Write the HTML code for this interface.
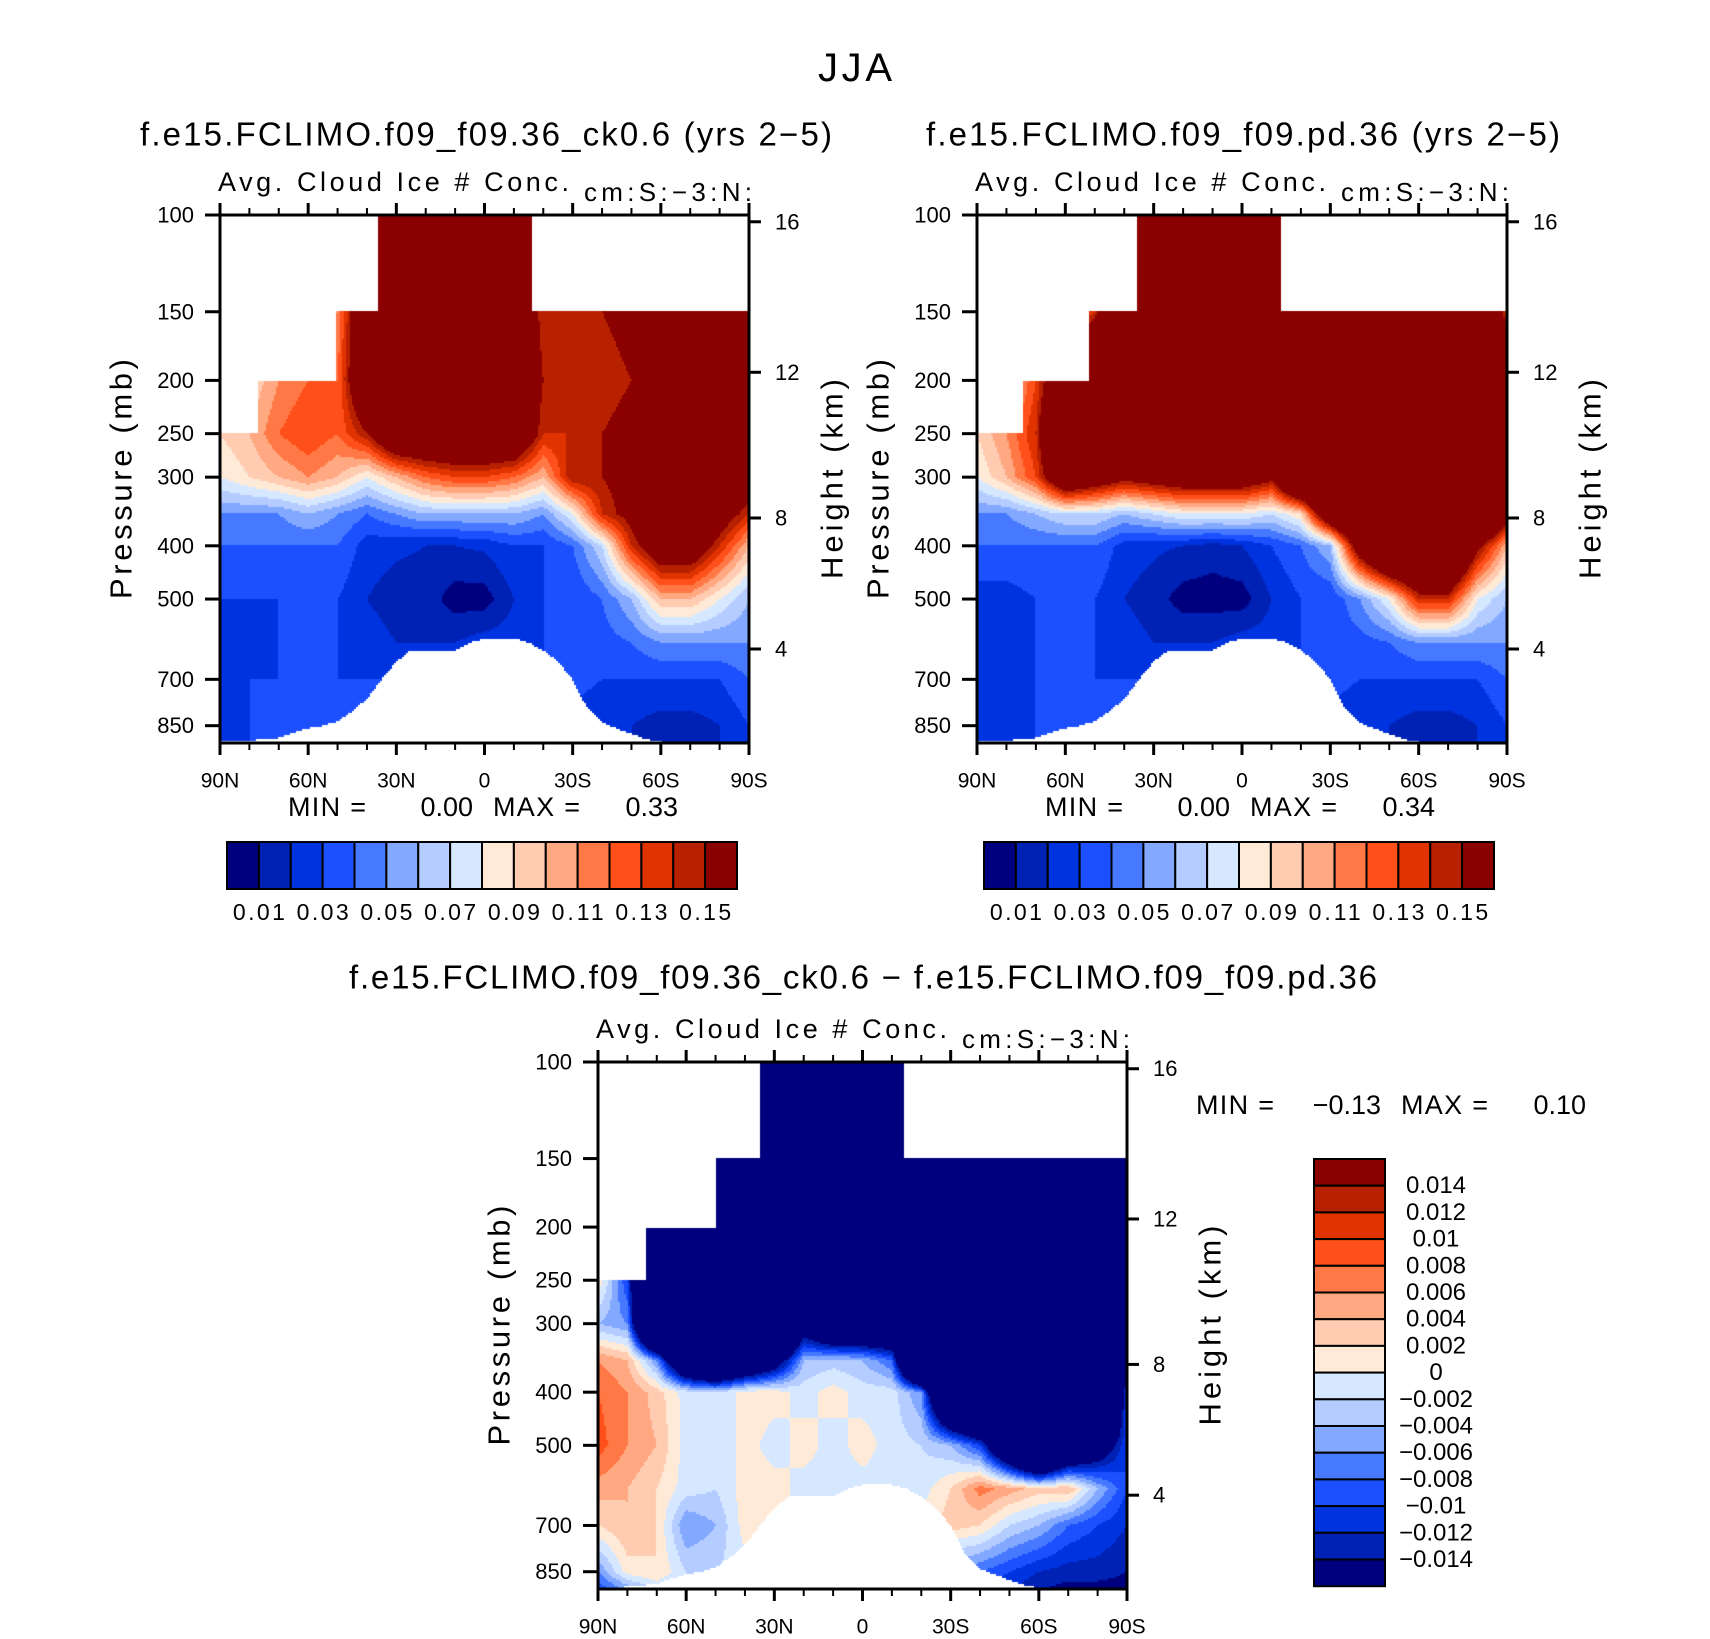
<!DOCTYPE html>
<html><head><meta charset="utf-8">
<style>
html,body{margin:0;padding:0;background:#fff}
#wrap{position:relative;width:1710px;height:1639px;overflow:hidden;font-family:"Liberation Sans",sans-serif}
canvas{position:absolute}
svg{position:absolute;left:0;top:0}
text{font-family:"Liberation Sans",sans-serif;fill:#000}
</style></head>
<body>
<div id="wrap">
<canvas id="c1" style="left:220px;top:215px" width="529" height="528"></canvas>
<canvas id="c2" style="left:977px;top:215px" width="530" height="528"></canvas>
<canvas id="c3" style="left:598px;top:1062px" width="529" height="527"></canvas>
<svg id="ov" width="1710" height="1639"></svg>
</div>
<script>
// ---------- data ----------
const lats = [90,80,70,60,50,40,30,20,10,0,-10,-20,-30,-40,-50,-60,-70,-80,-90];
const levels = [100,150,200,250,300,350,400,500,600,700,850,920];
const field1 = [
 [.10,.10,.10,.10,.12,.20,.20,.18,.16,.16,.17,.14,.14,.14,.14,.14,.14,.14,.14],
 [.08,.08,.09,.10,.11,.20,.25,.25,.25,.25,.20,.14,.14,.15,.16,.20,.20,.20,.16],
 [.08,.09,.11,.12,.12,.20,.25,.25,.25,.25,.20,.15,.14,.14,.15,.20,.20,.20,.20],
 [.09,.10,.12,.13,.12,.15,.20,.20,.20,.20,.20,.14,.14,.15,.16,.20,.20,.20,.18],
 [.08,.09,.10,.11,.10,.08,.10,.12,.13,.13,.12,.10,.15,.15,.16,.20,.20,.20,.17],
 [.05,.05,.05,.06,.05,.04,.05,.06,.06,.06,.06,.05,.08,.14,.16,.20,.20,.17,.14],
 [.04,.04,.04,.04,.04,.025,.022,.02,.02,.022,.03,.03,.04,.07,.14,.18,.18,.14,.10],
 [.03,.03,.03,.035,.03,.02,.015,.015,.005,.005,.02,.03,.03,.04,.06,.10,.10,.08,.06],
 [.025,.025,.03,.035,.03,.025,.02,.02,.02,.025,.025,.03,.035,.035,.04,.05,.05,.05,.05],
 [.025,.03,.03,.035,.03,.03,.03,.03,.03,.03,.03,.03,.035,.03,.03,.03,.03,.03,.04],
 [.025,.03,.03,.03,.03,.03,.03,.03,.03,.03,.03,.025,.025,.02,.02,.015,.015,.02,.03],
 [.025,.03,.03,.03,.03,.03,.03,.03,.03,.03,.03,.025,.025,.02,.02,.015,.015,.02,.03]
];
const field2 = [
 [.10,.10,.10,.10,.12,.25,.25,.25,.25,.25,.20,.16,.16,.16,.16,.16,.16,.16,.16],
 [.08,.08,.09,.10,.14,.25,.25,.25,.25,.25,.25,.20,.20,.20,.20,.20,.20,.20,.14],
 [.08,.09,.13,.20,.25,.25,.25,.25,.25,.25,.25,.25,.25,.25,.25,.25,.25,.25,.20],
 [.09,.11,.14,.25,.25,.25,.25,.25,.25,.25,.25,.25,.25,.25,.25,.25,.25,.25,.22],
 [.08,.10,.13,.20,.18,.16,.17,.18,.18,.18,.16,.25,.25,.25,.25,.25,.25,.25,.22],
 [.05,.05,.06,.07,.07,.06,.07,.08,.08,.08,.07,.09,.20,.25,.25,.25,.25,.25,.17],
 [.04,.04,.04,.04,.04,.025,.022,.02,.015,.02,.03,.04,.06,.18,.25,.25,.25,.16,.10],
 [.025,.025,.03,.035,.03,.02,.015,.005,.005,.005,.02,.03,.03,.05,.08,.14,.14,.08,.06],
 [.025,.025,.03,.035,.03,.025,.02,.02,.02,.025,.025,.03,.035,.035,.04,.05,.05,.05,.05],
 [.025,.03,.03,.035,.03,.03,.03,.03,.03,.03,.03,.03,.035,.03,.03,.03,.03,.03,.04],
 [.025,.025,.03,.03,.03,.03,.03,.03,.03,.03,.03,.025,.025,.02,.02,.015,.015,.02,.03],
 [.025,.025,.03,.03,.03,.03,.03,.03,.03,.03,.03,.025,.025,.02,.02,.015,.015,.02,.03]
];
const field3 = [
 [-.05,-.05,-.05,-.05,-.05,-.05,-.05,-.05,-.05,-.05,-.05,-.05,-.05,-.05,-.05,-.05,-.05,-.05,-.05],
 [-.05,-.05,-.05,-.05,-.05,-.05,-.05,-.05,-.05,-.05,-.05,-.05,-.05,-.05,-.05,-.05,-.05,-.05,-.02],
 [-.05,-.05,-.05,-.05,-.05,-.05,-.05,-.05,-.05,-.05,-.05,-.05,-.05,-.05,-.05,-.05,-.05,-.05,-.05],
 [.002,-.01,-.05,-.05,-.05,-.05,-.05,-.05,-.05,-.05,-.05,-.05,-.05,-.05,-.05,-.05,-.05,-.05,-.05],
 [-.004,-.006,-.05,-.05,-.05,-.05,-.05,-.02,-.03,-.03,-.03,-.05,-.05,-.05,-.05,-.05,-.05,-.05,-.03],
 [.006,.004,-.006,-.03,-.04,-.03,-.02,-.004,-.003,-.004,-.008,-.05,-.05,-.05,-.05,-.05,-.05,-.05,-.02],
 [.008,.006,.003,-.001,-.002,.001,.001,-.001,.001,-.001,-.001,-.006,-.04,-.05,-.05,-.05,-.05,-.05,-.01],
 [.009,.006,.004,-.001,-.002,.001,-.001,.001,-.001,.001,-.001,-.002,-.004,-.01,-.03,-.05,-.03,-.02,-.01],
 [.005,.004,.002,-.001,-.002,.001,.001,-.001,-.001,-.001,-.001,-.001,.002,.007,.005,.003,.004,-.004,-.01],
 [.002,.004,.002,-.006,-.004,.001,.001,-.001,-.001,-.001,-.001,.001,.003,.002,-.002,-.004,-.008,-.01,-.012],
 [-.006,.001,.002,-.002,-.002,-.001,-.001,-.001,-.001,-.001,-.002,-.004,-.006,-.008,-.01,-.012,-.013,-.013,-.014],
 [-.01,-.006,-.002,-.004,-.004,-.002,-.001,-.001,-.001,-.001,-.002,-.004,-.006,-.01,-.012,-.014,-.015,-.015,-.015]
];
// top-of-data masks: [northern lat edge, southern lat edge, pressure above which data missing]
const topMask1 = [[90,77,250],[77,50.6,200],[50.6,36,150],[-16,-90,150]];
const topMask2 = [[90,74.7,250],[74.7,52,200],[52,35.4,150],[-13.5,-90,150]];
const topMask3 = [[90,74,250],[74,50,200],[50,35,150],[-14,-90,150]];
// surface pressure every 5 deg, 90N -> 90S
const surfLats = [90,85,80,75,70,65,60,55,50,45,40,35,30,25,20,15,10,5,0,-5,-10,-15,-20,-25,-30,-35,-40,-45,-50,-55,-60,-65,-70,-75,-80,-85,-90];
const surfP = [910,910,905,900,895,875,860,850,835,800,760,700,650,620,620,620,620,600,590,590,590,600,620,650,700,790,840,860,880,900,910,920,920,920,920,920,920];
const levels1 = [.01,.02,.03,.04,.05,.06,.07,.08,.09,.10,.11,.12,.13,.14,.15];
const levels3 = [-.014,-.012,-.01,-.008,-.006,-.004,-.002,0,.002,.004,.006,.008,.01,.012,.014];
const cbLabels1 = ["0.01","0.03","0.05","0.07","0.09","0.11","0.13","0.15"];
const cbLabels3 = ["0.014","0.012","0.01","0.008","0.006","0.004","0.002","0","\u22120.002","\u22120.004","\u22120.006","\u22120.008","\u22120.01","\u22120.012","\u22120.014"];
const pTicks = [100,150,200,250,300,400,500,700,850];
const zTicks = [16,12,8,4];
const latTicks = [90,60,30,0,-30,-60,-90];
const colors = ["#00007f","#0022b4","#0033e0","#1c50ff","#4679ff","#82a8ff","#b4ccff","#d6e8ff","#ffead8","#ffccb2","#ffa882","#ff7845","#ff4f1a","#e03300","#b82100","#8b0000"];

// ---------- scales ----------
const PB = 914;
function yOf(p,T,H){return T+Math.log(p/100)/Math.log(PB/100)*H;}
function pOfFrac(f){return 100*Math.exp(f*Math.log(PB/100));}
function xOf(lat,L,W){return L+(90-lat)/180*W;}
function zToP(z){z*=1000; if(z<=11000) return 1013.25*Math.pow(1-2.25577e-5*z,5.25588); return 226.32*Math.exp(-(z-11000)/6341.6);}
function interp1(xs,ys,x){
  if(x>=xs[0]) return ys[0];
  for(let i=0;i<xs.length-1;i++){ if(x<=xs[i]&&x>=xs[i+1]){const t=(xs[i]-x)/(xs[i]-xs[i+1]);return ys[i]+(ys[i+1]-ys[i])*t;} }
  return ys[ys.length-1];
}
function sample(field,lat,p){
  const lp=Math.log(p);
  let r=0; while(r<levels.length-2 && Math.log(levels[r+1])<lp) r++;
  let tr=(lp-Math.log(levels[r]))/(Math.log(levels[r+1])-Math.log(levels[r])); tr=Math.max(0,Math.min(1,tr));
  let c=Math.min(17,Math.floor((90-lat)/10)); let tc=((90-lat)-c*10)/10; tc=Math.max(0,Math.min(1,tc));
  const a=field[r][c]*(1-tc)+field[r][c+1]*tc, b=field[r+1][c]*(1-tc)+field[r+1][c+1]*tc;
  return a*(1-tr)+b*tr;
}
function colorIdx(v,lv){v=Math.round(v*1e7)/1e7;let i=0; while(i<lv.length && v>=lv[i]-1e-9) i++; return i;}
function masked(lat,p,tm){
  for(const m of tm){ if(lat<=m[0]&&lat>=m[1]&&p<m[2]) return true; }
  const ps=interp1(surfLats,surfP,lat);
  return p>ps;
}
function drawField(id,field,lv,tm){
  const cv=document.getElementById(id), ctx=cv.getContext('2d');
  const W=cv.width,H=cv.height,s=2;
  for(let px=0;px<W;px+=s){
    const lat=90-(px+s/2)/W*180;
    for(let py=0;py<H;py+=s){
      const p=pOfFrac((py+s/2)/H);
      if(masked(lat,p,tm)) continue;
      ctx.fillStyle=colors[colorIdx(sample(field,lat,p),lv)];
      ctx.fillRect(px,py,s,s);
    }
  }
}
drawField('c1',field1,levels1,topMask1);
drawField('c2',field2,levels1,topMask2);
drawField('c3',field3,levels3,topMask3);

// ---------- overlay ----------
const NS="http://www.w3.org/2000/svg", ov=document.getElementById('ov');
function el(tag,attrs,parent){const e=document.createElementNS(NS,tag);for(const k in attrs)e.setAttribute(k,attrs[k]);(parent||ov).appendChild(e);return e;}
function txt(s,x,y,size,anchor,parent,rot,len){const t=el('text',{x:x,y:y,'font-size':size,'text-anchor':anchor||'start','dominant-baseline':'central'},parent);if(rot)t.setAttribute('transform','rotate(-90 '+x+' '+y+')');if(len){t.setAttribute('textLength',len);t.setAttribute('lengthAdjust','spacing');}t.textContent=s;return t;}
function latLabel(l){return l===0?"0":(Math.abs(l)+(l>0?"N":"S"));}

function panel(name,L,T,W,H,title,titleY,tx,tlen){
  const g=el('g',{});
  
  
  const t=txt(title,tx,titleY,33,'middle',g,false,tlen);
  
  
  const a=txt("Avg.  Cloud  Ice  #  Conc.",L-2,T-33,27,'start',g,false,351);
  
  
  const u=txt("cm:S:\u22123:N:",L+364,T-23,26,'start',g,false,168);
  
  
  const fr=el('rect',{x:L,y:T,width:W,height:H,fill:'none',stroke:'#000','stroke-width':3},g);
  
  
  for(let lat=90;lat>=-90;lat-=10){
    const x=xOf(lat,L,W), major=(lat%30===0), len=major?12:7;
    el('line',{x1:x,y1:T,x2:x,y2:T-len,stroke:'#000','stroke-width':major?3:2},g);
    el('line',{x1:x,y1:T+H,x2:x,y2:T+H+len,stroke:'#000','stroke-width':major?3:2},g);
  }
  latTicks.forEach(l=>{const lb=txt(latLabel(l),xOf(l,L,W),T+H+38,21,'middle',g);
    
    });
  pTicks.forEach(p=>{const y=yOf(p,T,H);
    el('line',{x1:L,y1:y,x2:L-15,y2:y,stroke:'#000','stroke-width':3},g);
    const lb=txt(String(p),L-26,y,22,'end',g);
    
    });
  zTicks.forEach(z=>{const y=yOf(zToP(z),T,H);
    el('line',{x1:L+W,y1:y,x2:L+W+12,y2:y,stroke:'#000','stroke-width':3},g);
    const lb=txt(String(z),L+W+26,y,22,'start',g);
    
    });
  const yt=txt("Pressure  (mb)",L-99,T+H*0.5,31,'middle',g,true,240);
  
  
  const ht=txt("Height  (km)",L+W+83,T+H*0.5,31,'middle',g,true,200);
  
  
}
panel('panel-ck06',220,215,529,528,"f.e15.FCLIMO.f09_f09.36_ck0.6  (yrs  2\u22125)",134,486,692);
panel('panel-pd36',977,215,530,528,"f.e15.FCLIMO.f09_f09.pd.36  (yrs  2\u22125)",134,1243,634);
panel('panel-diff',598,1062,529,527,"f.e15.FCLIMO.f09_f09.36_ck0.6  \u2212  f.e15.FCLIMO.f09_f09.pd.36",977,863,1028);

const jja=txt("JJA",855,68,40,'middle',null,false,74);



function minmax(x,y,mn,mx,name){
  const g=el('g',{});
  
  
  txt("MIN  =",x,y,27,'start',g,false,78);
  txt(mn,x+185,y,27,'end',g);
  txt("MAX  =",x+205,y,27,'start',g,false,87);
  txt(mx,x+390,y,27,'end',g);
}
minmax(288,807,"0.00","0.33",'minmax-ck06');
minmax(1045,807,"0.00","0.34",'minmax-pd36');
minmax(1196,1105,"\u22120.13","0.10",'minmax-diff');

function hbar(L,T,W,H,name){
  const g=el('g',{});
  
  
  const bw=W/colors.length;
  colors.forEach((c,i)=>{const r=el('rect',{x:L+i*bw,y:T,width:bw,height:H,fill:c,stroke:'#000','stroke-width':2},g);
    
    });
  cbLabels1.forEach((s,i)=>{const lb=txt(s,L+(1+2*i)*bw,T+H+23,23,'middle',g,false,52);
    
    });
}
hbar(227,842,510,47,'colorbar-ck06');
hbar(984,842,510,47,'colorbar-pd36');

(function(){
  const L=1314,T=1159,W=71,bh=26.7;
  const g=el('g',{});
  
  
  colors.slice().reverse().forEach((c,i)=>{const r=el('rect',{x:L,y:T+i*bh,width:W,height:bh,fill:c,stroke:'#000','stroke-width':2},g);
    
    });
  cbLabels3.forEach((s,i)=>{const lb=txt(s,1436,T+(i+1)*bh,24,'middle',g);
    
    });
})();
</script>
</body></html>
